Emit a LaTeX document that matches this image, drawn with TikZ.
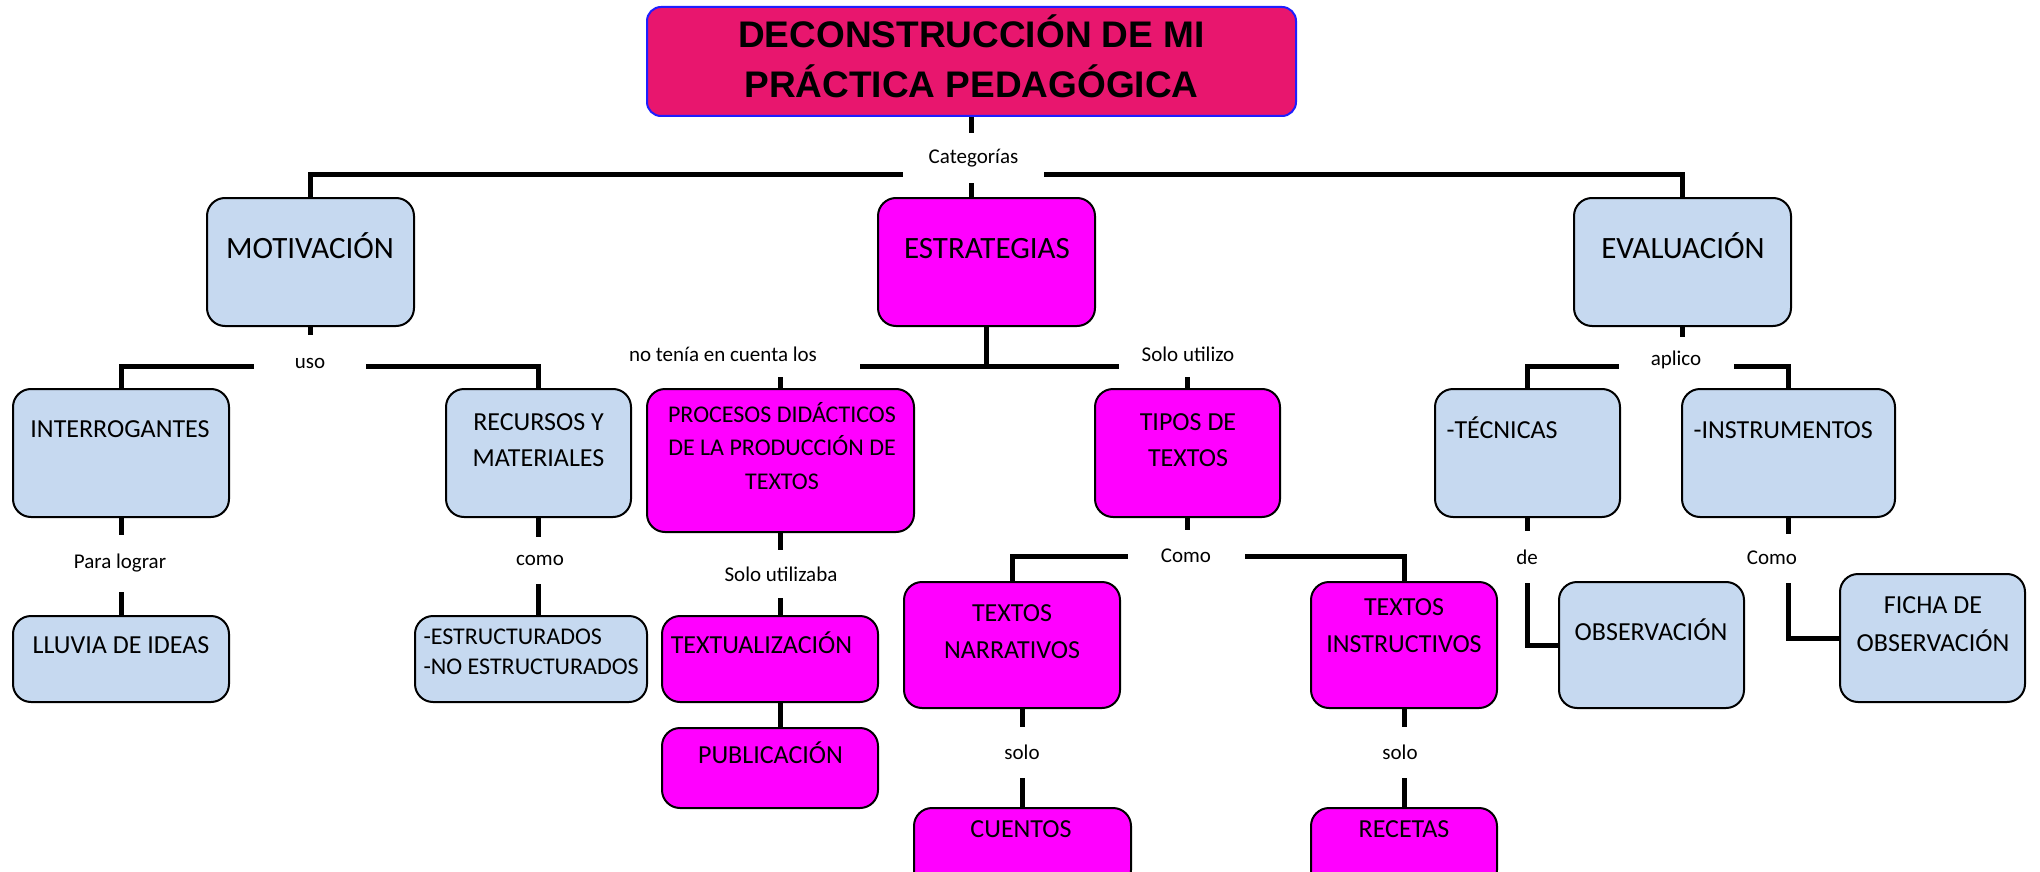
\documentclass[tikz,border=0pt]{standalone}
\usepackage{fontspec}
\setmainfont{Carlito}
\newfontfamily\titulo{Liberation Sans}
\definecolor{celeste}{RGB}{198,217,240}
\definecolor{fucsia}{RGB}{255,0,255}
\definecolor{rosa}{RGB}{232,22,110}
\definecolor{azul}{RGB}{30,30,255}

\begin{document}
\begin{tikzpicture}[x=1pt,y=-1pt,
  caja/.style={draw=black,line width=2pt,rounded corners=18pt,inner sep=0pt},
  cajaazul/.style={caja,fill=celeste},
  cajafucsia/.style={caja,fill=fucsia},
  conn/.style={line width=\grosor},
  etiq/.style={fill=white,inner sep=0pt,font=\fontsize{21}{25}\selectfont},
  grande/.style={anchor=base,font=\fontsize{31}{37}\selectfont},
  texto/.style={anchor=base,align=center,font=\fontsize{26}{36}\selectfont}]
\newcommand{\grosor}{5pt}
\useasboundingbox (0,0) rectangle (2040,872);

\node[caja,draw=azul,fill=rosa,rounded corners=14pt,minimum width=649pt,minimum height=109pt] (tit) at (971.5,61.5) {};
\node[cajaazul,minimum width=207pt,minimum height=128pt] (mot) at (310.5,262) {};
\node[cajafucsia,minimum width=217pt,minimum height=128pt] (est) at (986.5,262) {};
\node[cajaazul,minimum width=217pt,minimum height=128pt] (eva) at (1682.5,262) {};
\node[cajaazul,minimum width=216pt,minimum height=128pt] (int) at (121,453) {};
\node[cajaazul,minimum width=185pt,minimum height=128pt] (rec) at (538.5,453) {};
\node[cajafucsia,minimum width=267pt,minimum height=143pt] (pro) at (780.5,460.5) {};
\node[cajafucsia,minimum width=185pt,minimum height=128pt] (tip) at (1187.5,453) {};
\node[cajaazul,minimum width=185pt,minimum height=128pt] (tec) at (1527.5,453) {};
\node[cajaazul,minimum width=213pt,minimum height=128pt] (ins) at (1788.5,453) {};
\node[cajaazul,minimum width=216pt,minimum height=86pt] (llu) at (121,659) {};
\node[cajaazul,minimum width=232pt,minimum height=86pt] (str) at (531,659) {};
\node[cajafucsia,minimum width=216pt,minimum height=86pt] (texu) at (770,659) {};
\node[cajafucsia,minimum width=216pt,minimum height=80pt] (pub) at (770,768) {};
\node[cajafucsia,minimum width=216pt,minimum height=126pt] (nar) at (1012,645) {};
\node[cajafucsia,minimum width=186pt,minimum height=126pt] (tin) at (1404,645) {};
\node[cajaazul,minimum width=185pt,minimum height=126pt] (obs) at (1651.5,645) {};
\node[cajaazul,minimum width=185pt,minimum height=128pt] (fic) at (1932.5,638) {};
\node[cajafucsia,minimum width=217pt,minimum height=80pt] (cue) at (1022.5,848) {};
\node[cajafucsia,minimum width=186pt,minimum height=80pt] (rct) at (1404,848) {};

\node[anchor=base,align=center,font=\titulo\bfseries\fontsize{37}{50}\selectfont] (titT) at (971.5,98) {DECONSTRUCCIÓN DE MI\\PRÁCTICA PEDAGÓGICA};
\node[grande] (motT) at (310,258) {MOTIVACIÓN};
\node[grande] (estT) at (987,258) {ESTRATEGIAS};
\node[grande] (evaT) at (1683,258) {EVALUACIÓN};
\node[texto] (intT) at (120,437) {INTERROGANTES};
\node[texto] (recT) at (538.5,466) {RECURSOS Y\\MATERIALES};
\node[texto,font=\fontsize{24}{33.5}\selectfont] (proT) at (782,489) {PROCESOS DIDÁCTICOS\\DE LA PRODUCCIÓN DE\\TEXTOS};
\node[texto] (tipT) at (1188,466) {TIPOS DE\\TEXTOS};
\node[texto,anchor=base west] (tecT) at (1443,438) {-TÉCNICAS};
\node[texto,anchor=base west] (insT) at (1690,438) {-INSTRUMENTOS};
\node[texto] (lluT) at (121,653) {LLUVIA DE IDEAS};
\node[texto,anchor=base west,align=left,font=\fontsize{24}{30}\selectfont] (strT) at (420,674) {-ESTRUCTURADOS\\-NO ESTRUCTURADOS};
\node[texto] (texuT) at (761.5,653) {TEXTUALIZACIÓN};
\node[texto] (pubT) at (770.5,763) {PUBLICACIÓN};
\node[texto,font=\fontsize{26}{37}\selectfont] (narT) at (1012,658) {TEXTOS\\NARRATIVOS};
\node[texto,font=\fontsize{26}{37}\selectfont] (tinT) at (1404,652) {TEXTOS\\INSTRUCTIVOS};
\node[texto] (obsT) at (1651,640) {OBSERVACIÓN};
\node[texto,font=\fontsize{26}{38}\selectfont] (ficT) at (1933,651) {FICHA DE\\OBSERVACIÓN};
\node[texto] (cueT) at (1021,837) {CUENTOS};
\node[texto] (rctT) at (1404,837) {RECETAS};

\coordinate (jCat) at (971.5,174);
\coordinate (jUso) at (310.5,366);
\coordinate (jEst) at (986.5,366);
\coordinate (jApl) at (1682.5,366);
\coordinate (jCom) at (1187.5,556);

\draw[conn] (tit.south) -- (tit.south |- est.north);
\draw[conn] (mot.north) |- (jCat) -| (eva.north);
\draw[conn] (mot.south) -- (jUso);
\draw[conn] (int.north) |- (jUso) -| (rec.north);
\draw[conn] (est.south) -- (jEst);
\draw[conn] (pro.north) |- (jEst) -| (tip.north);
\draw[conn] (eva.south) -- (jApl);
\draw[conn] (tec.north) |- (jApl) -| (ins.north);
\draw[conn] (int.south) -- (llu.north);
\draw[conn] (rec.south) -- (rec.south |- str.north);
\draw[conn] (pro.south) -- (pro.south |- texu.north);
\draw[conn] (pro.south |- texu.south) -- (pro.south |- pub.north);
\draw[conn] (tip.south) -- (jCom);
\draw[conn] (nar.north) |- (jCom) -| (tin.north);
\draw[conn] (cue.north |- nar.south) -- (cue.north);
\draw[conn] (tin.south) -- (rct.north);
\draw[conn] (tec.south) |- (obs.west);
\draw[conn] (ins.south) |- (fic.west);

\node[etiq,minimum width=141pt,minimum height=50pt] (cat) at (973.5,158) {Categorías};
\node[etiq,minimum width=112pt,minimum height=56pt] (uso) at (310,363) {uso};
\node[etiq,minimum width=274pt,minimum height=46pt] (nte) at (723,354) {no tenía en cuenta los};
\node[etiq,minimum width=138pt,minimum height=46pt] (sut) at (1188,354) {Solo utilizo};
\node[etiq,minimum width=115pt,minimum height=46pt] (apl) at (1676,360) {aplico};
\node[etiq,minimum width=110pt,minimum height=57pt] (plo) at (120,563) {Para lograr};
\node[etiq,minimum width=70pt,minimum height=47pt] (com) at (540,560) {como};
\node[etiq,minimum width=130pt,minimum height=48pt] (sua) at (781,574) {Solo utilizaba};
\node[etiq,minimum width=117pt,minimum height=52pt] (cmo) at (1186,556) {Como};
\node[etiq,minimum width=60pt,minimum height=51pt] (so1) at (1022,752) {solo};
\node[etiq,minimum width=60pt,minimum height=51pt] (so2) at (1400,752) {solo};
\node[etiq,minimum width=40pt,minimum height=52pt] (de) at (1527,557) {de};
\node[etiq,minimum width=70pt,minimum height=49pt] (cm2) at (1772,558) {Como};
\end{tikzpicture}
\end{document}
